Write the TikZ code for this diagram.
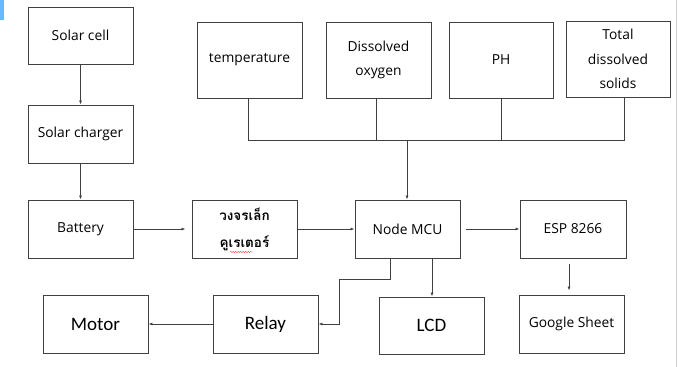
\documentclass[tikz,border=0pt]{standalone}
\usepackage{fontspec}
\setmainfont{Open Sans}
\newfontfamily\thaifont[Script=Thai]{Loma}
\newfontfamily\calib{Carlito}
\usetikzlibrary{arrows.meta,decorations.pathmorphing}
\begin{document}
\begin{tikzpicture}[x=1pt,y=-1pt,
  box/.style={draw=black!75,line width=0.9pt,inner sep=0pt,font=\fontsize{13.8}{24.5}\selectfont,align=center},
  big/.style={box,font=\calib\fontsize{19}{22}\selectfont},
  ln/.style={draw=black!75,line width=0.9pt},
  arr/.style={ln,-{Latex[length=4pt,width=3pt]}}]
\useasboundingbox (0,0) rectangle (678,367);
\fill[blue!45!cyan!60] (0,0) rectangle (4,20);
\draw[black!20,line width=0.8pt] (676,0) -- (676,367);
% top-left chain
\node[box,minimum width=105,minimum height=57] (sc) at (80.5,35.5) {Solar cell};
\node[box,minimum width=105,minimum height=58] (sch) at (80.5,134) {Solar charger};
\node[box,minimum width=105,minimum height=58] (bat) at (80.5,229) {Battery};
\node[box,minimum width=105,minimum height=58,font=\thaifont\bfseries\fontsize{13.5}{27}\selectfont] (vc) at (244.5,229) {วงจรเล็ก\\คูเรเตอร์};
\node[box,minimum width=105,minimum height=58] (mcu) at (407.5,229) {Node MCU};
\node[box,minimum width=106,minimum height=58] (esp) at (573,229) {ESP 8266};
% sensors
\node[box,minimum width=105,minimum height=76] (tmp) at (249.5,60) {temperature};
\node[box,minimum width=105,minimum height=76] (do) at (378.5,60) {Dissolved\\oxygen};
\node[box,minimum width=104,minimum height=76] (ph) at (501,60) {PH};
\node[box,minimum width=104,minimum height=76] (tds) at (618,59) {Total\\dissolved\\solids};
% bottom row
\node[big,minimum width=105,minimum height=58] (mot) at (95.5,324) {Motor};
\node[big,minimum width=105,minimum height=58] (rel) at (265.5,324) {Relay};
\node[big,minimum width=105,minimum height=57] (lcd) at (431.5,325.5) {LCD};
\node[box,minimum width=105,minimum height=58] (gs) at (571.5,324) {Google Sheet};
% spell-check squiggle
\draw[red!80,line width=0.4pt,decorate,decoration={snake,amplitude=0.6pt,segment length=2.5pt}] (230,252) -- (252,252);
% connectors
\draw[arr] (sc) -- (sch);
\draw[arr] (sch) -- (bat);
\draw[arr] (bat.east) -- ([xshift=-6]vc.west);
\draw[arr] (vc.east) -- (mcu.west);
\coordinate (bus) at (407,140);
\draw[ln] (tmp.south -| 248,0) |- (bus);
\draw[ln] (tds.south -| 624,0) |- (bus);
\draw[ln] (do.south -| 376,0) -- (376,140);
\draw[ln] (ph.south -| 501,0) -- (501,140);
\draw[arr] (bus) -- (mcu.north -| bus);
\draw[arr] ([xshift=6]mcu.east) -- (esp.west);
\draw[arr] (mcu.south -| 432,0) -- (lcd.north -| 432,0);
\draw[arr] ([yshift=-6]esp.south -| 569,0) -- ([yshift=4]gs.north -| 569,0);
\coordinate (k1) at (390,279);
\coordinate (k2) at (339,279);
\draw[arr] (mcu.south -| k1) -- (k1) -- (k2) |- (rel.east);
\draw[arr] (rel.west) -- (mot.east);
\end{tikzpicture}
\end{document}
